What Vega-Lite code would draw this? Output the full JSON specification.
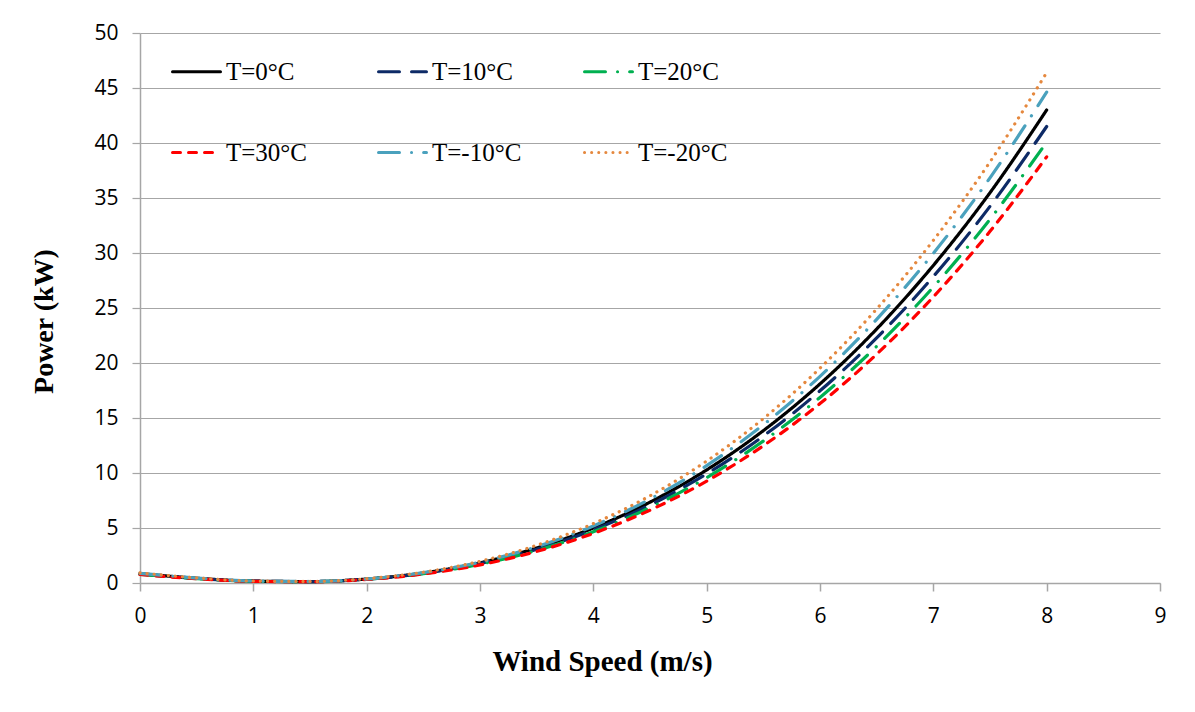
{
  "$schema": "https://vega.github.io/schema/vega-lite/v6.json",
  "width": 1020,
  "height": 550,
  "autosize": {"type": "none"},
  "padding": {"left": 140, "top": 33, "right": 35, "bottom": 129},
  "background": "white",
  "config": {"view": {"stroke": null}},
  "datasets": {
    "curves": [
      {"series":"T=0°C","speed":0,"power":0.85},{"series":"T=0°C","speed":0.5,"power":0.43},{"series":"T=0°C","speed":1,"power":0.17},{"series":"T=0°C","speed":1.5,"power":0.13},{"series":"T=0°C","speed":2,"power":0.36},{"series":"T=0°C","speed":2.5,"power":0.91},{"series":"T=0°C","speed":3,"power":1.83},{"series":"T=0°C","speed":3.5,"power":3.18},{"series":"T=0°C","speed":4,"power":5.0},{"series":"T=0°C","speed":4.5,"power":7.35},{"series":"T=0°C","speed":5,"power":10.28},{"series":"T=0°C","speed":5.5,"power":13.85},{"series":"T=0°C","speed":6,"power":18.1},{"series":"T=0°C","speed":6.5,"power":23.09},{"series":"T=0°C","speed":7,"power":28.87},{"series":"T=0°C","speed":7.5,"power":35.48},{"series":"T=0°C","speed":8,"power":43.0},
      {"series":"T=10°C","speed":0,"power":0.82},{"series":"T=10°C","speed":0.5,"power":0.41},{"series":"T=10°C","speed":1,"power":0.17},{"series":"T=10°C","speed":1.5,"power":0.13},{"series":"T=10°C","speed":2,"power":0.35},{"series":"T=10°C","speed":2.5,"power":0.88},{"series":"T=10°C","speed":3,"power":1.77},{"series":"T=10°C","speed":3.5,"power":3.07},{"series":"T=10°C","speed":4,"power":4.83},{"series":"T=10°C","speed":4.5,"power":7.09},{"series":"T=10°C","speed":5,"power":9.92},{"series":"T=10°C","speed":5.5,"power":13.36},{"series":"T=10°C","speed":6,"power":17.47},{"series":"T=10°C","speed":6.5,"power":22.28},{"series":"T=10°C","speed":7,"power":27.86},{"series":"T=10°C","speed":7.5,"power":34.24},{"series":"T=10°C","speed":8,"power":41.5},
      {"series":"T=20°C","speed":0,"power":0.79},{"series":"T=20°C","speed":0.5,"power":0.4},{"series":"T=20°C","speed":1,"power":0.16},{"series":"T=20°C","speed":1.5,"power":0.12},{"series":"T=20°C","speed":2,"power":0.34},{"series":"T=20°C","speed":2.5,"power":0.85},{"series":"T=20°C","speed":3,"power":1.71},{"series":"T=20°C","speed":3.5,"power":2.96},{"series":"T=20°C","speed":4,"power":4.66},{"series":"T=20°C","speed":4.5,"power":6.85},{"series":"T=20°C","speed":5,"power":9.58},{"series":"T=20°C","speed":5.5,"power":12.91},{"series":"T=20°C","speed":6,"power":16.87},{"series":"T=20°C","speed":6.5,"power":21.52},{"series":"T=20°C","speed":7,"power":26.91},{"series":"T=20°C","speed":7.5,"power":33.07},{"series":"T=20°C","speed":8,"power":40.08},
      {"series":"T=30°C","speed":0,"power":0.77},{"series":"T=30°C","speed":0.5,"power":0.39},{"series":"T=30°C","speed":1,"power":0.15},{"series":"T=30°C","speed":1.5,"power":0.12},{"series":"T=30°C","speed":2,"power":0.32},{"series":"T=30°C","speed":2.5,"power":0.82},{"series":"T=30°C","speed":3,"power":1.65},{"series":"T=30°C","speed":3.5,"power":2.87},{"series":"T=30°C","speed":4,"power":4.51},{"series":"T=30°C","speed":4.5,"power":6.62},{"series":"T=30°C","speed":5,"power":9.26},{"series":"T=30°C","speed":5.5,"power":12.48},{"series":"T=30°C","speed":6,"power":16.31},{"series":"T=30°C","speed":6.5,"power":20.8},{"series":"T=30°C","speed":7,"power":26.01},{"series":"T=30°C","speed":7.5,"power":31.97},{"series":"T=30°C","speed":8,"power":38.74},
      {"series":"T=-10°C","speed":0,"power":0.88},{"series":"T=-10°C","speed":0.5,"power":0.45},{"series":"T=-10°C","speed":1,"power":0.18},{"series":"T=-10°C","speed":1.5,"power":0.14},{"series":"T=-10°C","speed":2,"power":0.37},{"series":"T=-10°C","speed":2.5,"power":0.94},{"series":"T=-10°C","speed":3,"power":1.9},{"series":"T=-10°C","speed":3.5,"power":3.3},{"series":"T=-10°C","speed":4,"power":5.19},{"series":"T=-10°C","speed":4.5,"power":7.63},{"series":"T=-10°C","speed":5,"power":10.67},{"series":"T=-10°C","speed":5.5,"power":14.38},{"series":"T=-10°C","speed":6,"power":18.79},{"series":"T=-10°C","speed":6.5,"power":23.97},{"series":"T=-10°C","speed":7,"power":29.97},{"series":"T=-10°C","speed":7.5,"power":36.83},{"series":"T=-10°C","speed":8,"power":44.63},
      {"series":"T=-20°C","speed":0,"power":0.92},{"series":"T=-20°C","speed":0.5,"power":0.46},{"series":"T=-20°C","speed":1,"power":0.18},{"series":"T=-20°C","speed":1.5,"power":0.14},{"series":"T=-20°C","speed":2,"power":0.39},{"series":"T=-20°C","speed":2.5,"power":0.98},{"series":"T=-20°C","speed":3,"power":1.97},{"series":"T=-20°C","speed":3.5,"power":3.43},{"series":"T=-20°C","speed":4,"power":5.4},{"series":"T=-20°C","speed":4.5,"power":7.93},{"series":"T=-20°C","speed":5,"power":11.09},{"series":"T=-20°C","speed":5.5,"power":14.94},{"series":"T=-20°C","speed":6,"power":19.53},{"series":"T=-20°C","speed":6.5,"power":24.91},{"series":"T=-20°C","speed":7,"power":31.15},{"series":"T=-20°C","speed":7.5,"power":38.28},{"series":"T=-20°C","speed":8,"power":46.4}
    ]
  },
  "data": {"name": "curves"},
  "mark": {"type": "line", "strokeWidth": 3.2, "strokeCap": "round", "interpolate": "monotone"},
  "encoding": {
    "x": {
      "field": "speed", "type": "quantitative",
      "scale": {"domain": [0, 9], "nice": false},
      "axis": {
        "values": [0,1,2,3,4,5,6,7,8,9], "format": "d", "grid": false, "labelFlush": false,
        "domainColor": "#a6a6a6", "domainWidth": 1.5, "tickColor": "#a6a6a6", "tickWidth": 1.5, "tickSize": 8,
        "labelFont": "Open Sans", "labelFontSize": 21, "labelColor": "#000000", "labelPadding": 14,
        "title": "Wind Speed (m/s)", "titleFont": "Liberation Serif", "titleFontWeight": "bold", "titleFontSize": 29, "titleColor": "#000000",
        "titleX": 462, "titleY": 78, "titleBaseline": "middle", "titleAnchor": "middle"
      }
    },
    "y": {
      "field": "power", "type": "quantitative",
      "scale": {"domain": [0, 50], "nice": false},
      "axis": {
        "values": [0,5,10,15,20,25,30,35,40,45,50], "grid": true, "gridColor": "#a6a6a6", "gridWidth": 1.2, "labelFlush": false,
        "domainColor": "#a6a6a6", "domainWidth": 1.5, "tickColor": "#a6a6a6", "tickWidth": 1.2, "tickSize": 8,
        "labelFont": "Open Sans", "labelFontSize": 21, "labelColor": "#000000", "labelPadding": 14,
        "title": "Power (kW)", "titleFont": "Liberation Serif", "titleFontWeight": "bold", "titleFontSize": 28, "titleColor": "#000000",
        "titleX": -96, "titleY": 288, "titleBaseline": "middle", "titleAngle": -90, "titleAnchor": "middle"
      }
    },
    "color": {
      "field": "series", "type": "nominal",
      "scale": {
        "domain": ["T=0°C","T=10°C","T=20°C","T=30°C","T=-10°C","T=-20°C"],
        "range": ["#000000","#0d2a66","#00b050","#ff0000","#4aa1bd","#e5883e"]
      },
      "legend": {
        "orient": "none", "legendX": 31, "legendY": 13, "columns": 3, "direction": "horizontal",
        "title": null, "symbolType": "stroke", "symbolSize": 2304, "symbolStrokeWidth": 3,
        "labelFont": "Liberation Serif", "labelFontSize": 25, "labelColor": "#000000", "labelOffset": 4, "labelLimit": 300,
        "gridAlign": "all", "columnPadding": 56, "rowPadding": 42,
        "encode": {"symbols": {"update": {"strokeCap": {"value": "round"}}}}
      }
    },
    "strokeDash": {
      "field": "series", "type": "nominal",
      "scale": {
        "domain": ["T=0°C","T=10°C","T=20°C","T=30°C","T=-10°C","T=-20°C"],
        "range": [[1,0],[21,12],[21,12,0.1,12],[8,8],[21,12,0.1,12],[0.1,7]]
      },
      "legend": {
        "orient": "none", "legendX": 31, "legendY": 13, "columns": 3, "direction": "horizontal",
        "title": null, "symbolType": "stroke", "symbolSize": 2304, "symbolStrokeWidth": 3,
        "labelFont": "Liberation Serif", "labelFontSize": 25, "labelColor": "#000000", "labelOffset": 4, "labelLimit": 300,
        "gridAlign": "all", "columnPadding": 56, "rowPadding": 42,
        "encode": {"symbols": {"update": {"strokeCap": {"value": "round"}}}}
      }
    }
  }
}
